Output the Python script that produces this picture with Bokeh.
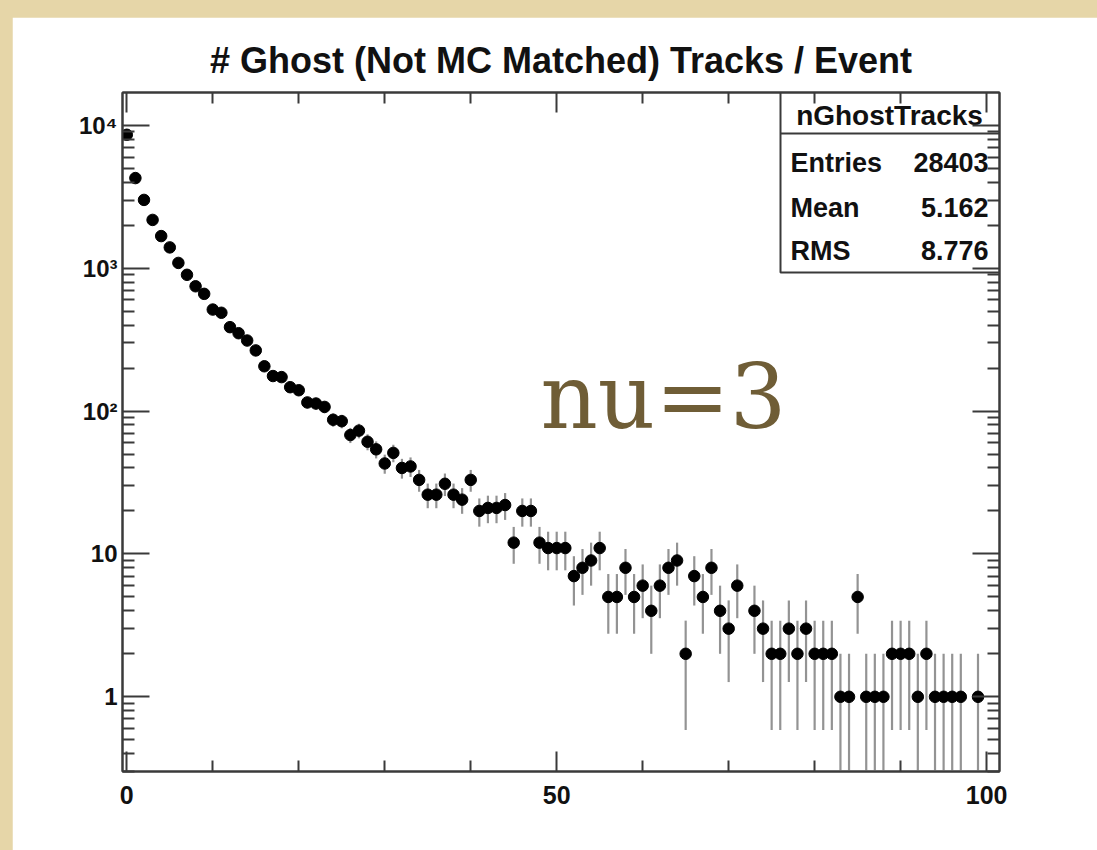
import numpy as np
from bokeh.plotting import figure
from bokeh.models import FixedTicker, LinearAxis, LogAxis, Range1d, ColumnDataSource, Spacer
from bokeh.layouts import column, row
from bokeh.core.properties import value
from bokeh.embed import file_html
from bokeh.resources import INLINE

# ---- histogram contents: number of ghost tracks per event ----
bins = list(range(0, 101))
counts = [
    8600, 4280, 3010, 2180, 1680, 1400, 1090, 900, 748, 662,
    514, 488, 387, 351, 312, 266, 206, 176, 173, 147,
    140, 115, 113, 107, 87, 85, 68, 73, 61, 54,
    43, 51, 40, 41, 33, 26, 26, 31, 26, 24,
    33, 20, 21, 21, 22, 12, 20, 20, 12, 11,
    11, 11, 7, 8, 9, 11, 5, 5, 8, 5,
    6, 4, 6, 8, 9, 2, 7, 5, 8, 4,
    3, 6, 0, 4, 3, 2, 2, 3, 2, 3,
    2, 2, 2, 1, 1, 5, 1, 1, 1, 2,
    2, 2, 1, 2, 1, 1, 1, 1, 0, 1,
    0,
]

title_text = "# Ghost (Not MC Matched) Tracks / Event"
stats_name = "nGhostTracks"
stats_labels = ["Entries", "Mean", "RMS"]
stats_values = ["28403", "5.162", "8.776"]
annotation = "nu=3"

x_major = [0, 50, 100]
x_minor = [10, 20, 30, 40, 60, 70, 80, 90]
y_major = [1, 10, 100, 1000, 10000]
y_major_labels = {1: "1", 10: "10", 100: "10\u00b2", 1000: "10\u00b3", 10000: "10\u2074"}

X_RANGE = (-0.5, 101.5)
Y_RANGE = (0.3, 1.7e4)
FRAME_W, FRAME_H = 877, 679

y_minor = [m * 10.0 ** e for e in range(-1, 5) for m in range(2, 10)
           if Y_RANGE[0] <= m * 10.0 ** e <= Y_RANGE[1]]

# non-empty bins with Poisson errors
n = np.array(counts, dtype=float)
x = np.array(bins, dtype=float)
keep = n > 0
xs, ns = x[keep], n[keep]
err = np.sqrt(ns)
src = ColumnDataSource(dict(x=xs, n=ns, lo=np.maximum(ns - err, 1e-3), hi=ns + err))

FONT = "Liberation Sans"
AXIS_COLOR = "#3a3a3a"

p = figure(width=1085, height=833,
           x_range=Range1d(*X_RANGE), y_range=Range1d(*Y_RANGE),
           y_axis_type="log", output_backend="svg", toolbar_location=None,
           min_border_left=110, min_border_right=98,
           min_border_top=75, min_border_bottom=79,
           background_fill_color="white", border_fill_color="white",
           outline_line_color=AXIS_COLOR, outline_line_width=2)
p.grid.visible = False

p.title.text = title_text
p.title.align = "center"
p.title.text_font = FONT
p.title.text_font_style = "bold"
p.title.text_font_size = "36px"
p.title.text_color = "#111111"
p.title.standoff = 24


def style_axis(ax, major_len, minor_len, labels=True, size="25px"):
    ax.major_tick_in = major_len
    ax.major_tick_out = 0
    ax.minor_tick_in = minor_len
    ax.minor_tick_out = 0
    ax.axis_line_color = AXIS_COLOR
    ax.axis_line_width = 2
    ax.major_tick_line_color = AXIS_COLOR
    ax.major_tick_line_width = 2
    ax.minor_tick_line_color = AXIS_COLOR
    ax.minor_tick_line_width = 2
    ax.major_label_text_font = FONT
    ax.major_label_text_font_style = "bold"
    ax.major_label_text_color = "#111111"
    if labels:
        ax.major_label_text_font_size = size
    else:
        # mirrored axis: ticks only, labels kept tiny and invisible
        ax.major_label_text_font_size = "1px"
        ax.major_label_text_alpha = 0
        ax.major_label_standoff = 0


xticker = FixedTicker(ticks=x_major, minor_ticks=x_minor)
yticker = FixedTicker(ticks=y_major, minor_ticks=y_minor)

bx = p.xaxis[0]
bx.ticker = xticker
style_axis(bx, 20, 11)
bx.major_label_standoff = 14

ly = p.yaxis[0]
ly.ticker = yticker
ly.major_label_overrides = y_major_labels
style_axis(ly, 27, 12, size="24px")
ly.major_label_standoff = 5

top = LinearAxis(ticker=xticker)
style_axis(top, 20, 11, labels=False)
p.add_layout(top, "above")

right = LogAxis(ticker=yticker)
style_axis(right, 27, 12, labels=False)
p.add_layout(right, "right")

# error bars and markers
p.segment(x0="x", y0="lo", x1="x", y1="hi", source=src, line_color="#939393", line_width=2.2)
p.scatter(x="x", y="n", source=src, size=11.5, fill_color="black", line_color="black")


# helpers: pixel offsets inside the frame -> data coordinates
def fx(px):
    return X_RANGE[0] + px / FRAME_W * (X_RANGE[1] - X_RANGE[0])


def fy(py):
    lo, hi = np.log10(Y_RANGE[0]), np.log10(Y_RANGE[1])
    return 10 ** (hi - py / FRAME_H * (hi - lo))


# statistics box in the upper right corner
box_left = fx(658)
p.quad(left=[box_left], right=[X_RANGE[1]], top=[Y_RANGE[1]], bottom=[fy(180)],
       fill_color="white", line_color=AXIS_COLOR, line_width=2)
p.segment(x0=[box_left], x1=[X_RANGE[1]], y0=[fy(41)], y1=[fy(41)],
          line_color=AXIS_COLOR, line_width=2)
p.text(x=[fx(767)], y=[fy(23)], text=[stats_name], text_font=value(FONT),
       text_font_style="bold", text_font_size="28px", text_align="center",
       text_baseline="middle", text_color="#111111")
row_y = [fy(70), fy(115), fy(158)]
p.text(x=[fx(668)] * 3, y=row_y, text=stats_labels, text_font=value(FONT),
       text_font_style="bold", text_font_size="27px", text_align="left",
       text_baseline="middle", text_color="#111111")
p.text(x=[fx(866)] * 3, y=row_y, text=stats_values, text_font=value(FONT),
       text_font_style="bold", text_font_size="27px", text_align="right",
       text_baseline="middle", text_color="#111111")

# slide annotation
p.text(x=[fx(418)], y=[fy(304)], text=[annotation], text_font=value("DejaVu Serif"),
       text_font_size="89px", text_align="left", text_baseline="middle",
       text_color="#6f5d36")

page = column(
    Spacer(width=1097, height=17),
    row(Spacer(width=12, height=833), p, spacing=0),
    spacing=0,
    styles={"background-color": "#e6d6a8"},
)

open("out.html", "w").write(file_html(page, INLINE))
